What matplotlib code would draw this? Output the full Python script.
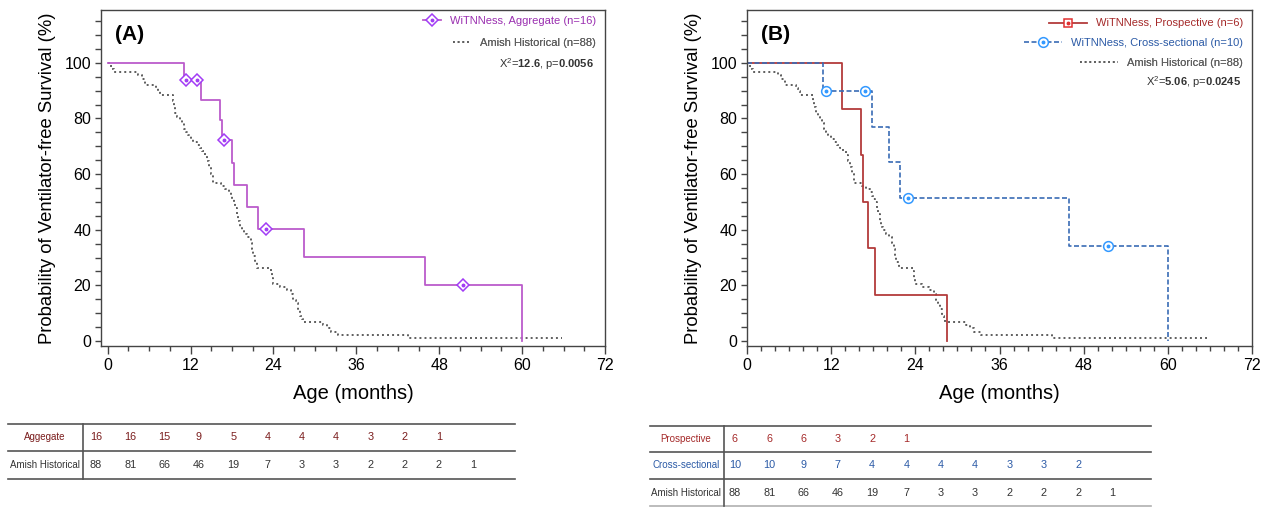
import numpy as np
import matplotlib.pyplot as plt
from matplotlib.lines import Line2D
from matplotlib.legend_handler import HandlerTuple
from matplotlib.ticker import MultipleLocator

plt.rcParams['font.family'] = ['Liberation Sans', 'DejaVu Sans']
plt.rcParams['mathtext.fontset'] = 'custom'
plt.rcParams['mathtext.rm'] = 'Liberation Sans'
plt.rcParams['mathtext.bf'] = 'Liberation Sans:bold'

# ---- data ----
# WiTNNess aggregate, n=16
agg_t = [0, 11.0, 13.5, 16.3, 16.6, 18.05, 18.3, 20.1, 21.8, 28.4, 46.0, 60.0]
agg_s = [100, 93.75, 86.5, 79.3, 72.1, 64.1, 56.1, 48.1, 40.1, 30.1, 20.0, 0]
agg_cens = [11.3, 13.0, 16.9, 22.9, 51.4]

# WiTNNess prospective, n=6
pro_t = [0, 13.5, 16.3, 16.6, 17.2, 18.2, 28.5]
pro_s = [100, 83.3, 66.7, 50.0, 33.3, 16.7, 0]

# WiTNNess cross-sectional, n=10
cs_t = [0, 10.9, 17.8, 20.2, 21.8, 45.9, 60.0]
cs_s = [100, 90.0, 77.1, 64.3, 51.4, 34.3, 0]
cs_cens = [11.3, 16.8, 23.0, 51.4]

# Amish historical, n=88
amish_t = [0, 0.3, 0.6, 0.9, 4.4, 4.9, 5.4, 7.0, 7.3, 7.5,
           9.4, 9.6, 9.8, 10.1, 10.4, 10.7, 11.0, 11.3, 11.6, 12.0,
           12.4, 12.9, 13.3, 13.7, 14.1, 14.4, 14.7, 15.0, 15.3, 16.4,
           17.0, 17.5, 17.8, 18.0, 18.3, 18.5, 18.7, 18.9, 19.1, 19.4,
           19.8, 20.2, 20.7, 20.9, 21.1, 21.3, 21.6, 23.6, 23.8, 24.0,
           25.0, 26.0, 26.6, 26.9, 27.2, 27.5, 27.8, 28.1, 28.3, 31.2,
           31.8, 32.4, 33.4, 43.5, 65.8]
amish_s = [100, 98.9, 97.7, 96.6, 95.5, 94.3, 92.0, 90.9, 89.8, 88.6,
           86.4, 84.1, 81.8, 80.7, 79.5, 78.4, 76.1, 75.0, 73.9, 72.7,
           71.6, 70.5, 69.3, 68.2, 67.0, 64.8, 62.5, 60.2, 56.8, 55.7,
           54.5, 53.4, 52.3, 51.1, 50.0, 47.7, 45.5, 43.2, 40.9, 39.8,
           38.6, 37.5, 35.2, 33.0, 30.7, 28.4, 26.1, 25.0, 22.7, 20.5,
           19.3, 18.2, 17.0, 14.8, 13.6, 11.4, 9.1, 8.0, 6.8, 5.7,
           4.5, 3.4, 2.3, 1.1, 1.1]

# numbers at risk (every 6 months)
risk_agg = [16, 16, 15, 9, 5, 4, 4, 4, 3, 2, 1]
risk_pro = [6, 6, 6, 3, 2, 1]
risk_cs = [10, 10, 9, 7, 4, 4, 4, 4, 3, 3, 2]
risk_amish = [88, 81, 66, 46, 19, 7, 3, 3, 2, 2, 2, 1]

chi_A = ('12.6', '0.0056')
chi_B = ('5.06', '0.0245')

PURPLE = '#bb5ccb'
PURPLE_MK = '#a23cf5'
PURPLE_TXT = '#9a2fb0'
RED = '#b33b3b'
RED_TXT = '#a52a2a'
DKRED = '#7a1c1c'
BLUE = '#3a6cb5'
BLUE_MK = '#3399ff'
BLUE_TXT = '#2b5aa6'
GREY = '#5e5e5e'
AMISH_LS = (0, (1, 1.6))

W, H = 1267, 507
fig = plt.figure(figsize=(W / 100, H / 100), dpi=100)


def px_axes(l, t, r, b):
    return fig.add_axes([l / W, 1 - b / H, (r - l) / W, (b - t) / H])


# pixel-space layer for the risk tables
tab = px_axes(0, 0, W, H)
tab.set_xlim(0, W)
tab.set_ylim(H, 0)
tab.axis('off')

axA = px_axes(101, 10, 605, 346)
axB = px_axes(747, 10, 1252, 346)


def style_axes(ax, xmin, xminor, letter):
    ax.set_xlim(xmin, 72)
    ax.set_ylim(-1.8, 119)
    ax.xaxis.set_major_locator(MultipleLocator(12))
    ax.xaxis.set_minor_locator(MultipleLocator(xminor))
    ax.yaxis.set_major_locator(MultipleLocator(20))
    ax.yaxis.set_minor_locator(MultipleLocator(5))
    ax.set_yticks([0, 20, 40, 60, 80, 100])
    for s in ax.spines.values():
        s.set_color('#444444')
        s.set_linewidth(1.0)
    ax.tick_params(which='major', length=5.5, width=1.0, color='#444444',
                   labelsize=11.5, pad=3)
    ax.tick_params(which='minor', length=3.5, width=1.0, color='#444444')
    ax.tick_params(axis='y', which='both', length=4)
    ax.set_xlabel('Age (months)', fontsize=14.5, labelpad=8)
    ax.set_ylabel('Probability of Ventilator-free Survival (%)', fontsize=13.3,
                  labelpad=6)
    ax.text(0.028, 0.955, letter, transform=ax.transAxes, fontsize=15,
            fontweight='bold', va='top', ha='left')


style_axes(axA, -0.97, 3, '(A)')
style_axes(axB, 0, 2, '(B)')


def surv_at(t, times, surv):
    i = np.searchsorted(times, t, side='right') - 1
    return surv[i]


def censor_marks(ax, cens, times, surv, marker, ec, ms):
    ys = [surv_at(c, times, surv) for c in cens]
    ax.plot(cens, ys, ls='', marker=marker, ms=ms, mfc='white', mec=ec,
            mew=1.1, zorder=4)
    ax.plot(cens, ys, ls='', marker='o', ms=1.8, color=ec, zorder=5)


def legend_row(ax, handle, label, color, ytop, hl):
    leg = ax.legend([handle], [label], loc='upper right',
                    bbox_to_anchor=(0.982, ytop), frameon=False,
                    borderaxespad=0, borderpad=0, handlelength=hl,
                    handletextpad=0.8, fontsize=8, labelcolor=color,
                    handler_map={tuple: HandlerTuple(ndivide=1)})
    ax.add_artist(leg)


amish_handle = Line2D([], [], color=GREY, ls=AMISH_LS, lw=1.3)

# ---- panel A ----
axA.step(amish_t, amish_s, where='post', color=GREY, ls=AMISH_LS, lw=1.4)
axA.step(agg_t, agg_s, where='post', color=PURPLE, lw=1.3)
censor_marks(axA, agg_cens, agg_t, agg_s, 'D', PURPLE_MK, 6.5)

hA = (Line2D([], [], color=PURPLE, lw=1.3, marker='D', ms=6.5, mfc='white',
             mec=PURPLE_MK, mew=1.1),
      Line2D([], [], ls='', marker='o', ms=1.8, color=PURPLE_MK))
legend_row(axA, hA, 'WiTNNess, Aggregate (n=16)', PURPLE_TXT, 0.983, 1.6)
legend_row(axA, amish_handle, 'Amish Historical (n=88)', GREY, 0.918, 1.6)
axA.text(0.978, 0.838, r'X$^{2}$=$\mathbf{%s}$, p=$\mathbf{%s}$' % chi_A,
         transform=axA.transAxes, ha='right', va='center', fontsize=8,
         color='#333333')

# ---- panel B ----
axB.step(amish_t, amish_s, where='post', color=GREY, ls=AMISH_LS, lw=1.4)
axB.step(pro_t, pro_s, where='post', color=RED, lw=1.3)
axB.step(cs_t, cs_s, where='post', color=BLUE, lw=1.2, ls=(0, (3, 1.5)))
censor_marks(axB, cs_cens, cs_t, cs_s, 'o', BLUE_MK, 7)

hP = (Line2D([], [], color=RED, lw=1.3, marker='s', ms=6, mfc='white',
             mec='#e03030', mew=1.1),
      Line2D([], [], ls='', marker='o', ms=1.8, color='#e03030'))
hC = (Line2D([], [], color=BLUE, lw=1.2, ls=(0, (3, 1.5)), marker='o', ms=7,
             mfc='white', mec=BLUE_MK, mew=1.1),
      Line2D([], [], ls='', marker='o', ms=1.8, color=BLUE_MK))
legend_row(axB, hP, 'WiTNNess, Prospective (n=6)', RED_TXT, 0.975, 3.4)
legend_row(axB, hC, 'WiTNNess, Cross-sectional (n=10)', BLUE_TXT, 0.916, 3.4)
legend_row(axB, amish_handle, 'Amish Historical (n=88)', GREY, 0.857, 3.4)
axB.text(0.978, 0.784, r'X$^{2}$=$\mathbf{%s}$, p=$\mathbf{%s}$' % chi_B,
         transform=axB.transAxes, ha='right', va='center', fontsize=8,
         color='#333333')


# ---- risk tables ----
def risk_table(x0, x1, xsep, xlab, xfirst, row_lines, rows):
    for i, y in enumerate(row_lines):
        c = '#b0b0b0' if (i == len(row_lines) - 1 and y > 500) else '#555555'
        tab.plot([x0, x1], [y, y], color=c, lw=1.2)
    tab.plot([xsep, xsep], [row_lines[0], row_lines[-1]], color='#555555',
             lw=1.2)
    for r, (label, vals, color) in enumerate(rows):
        yc = (row_lines[r] + row_lines[r + 1]) / 2
        tab.text(xlab, yc, label, ha='center', va='center', fontsize=7,
                 color=color)
        for i, v in enumerate(vals):
            tab.text(xfirst + i * 34.3, yc, str(v), ha='center', va='center',
                     fontsize=7.8, color=color)


risk_table(8, 515, 83, 45, 96, [424, 450.5, 478.5],
           [('Aggegate', risk_agg, DKRED),
            ('Amish Historical', risk_amish, '#333333')])
risk_table(650, 1151, 724, 686, 735, [425.5, 451.5, 479, 506.3],
           [('Prospective', risk_pro, RED_TXT),
            ('Cross-sectional', risk_cs, BLUE_TXT),
            ('Amish Historical', risk_amish, '#333333')])

fig.savefig('out.png', dpi=100)
